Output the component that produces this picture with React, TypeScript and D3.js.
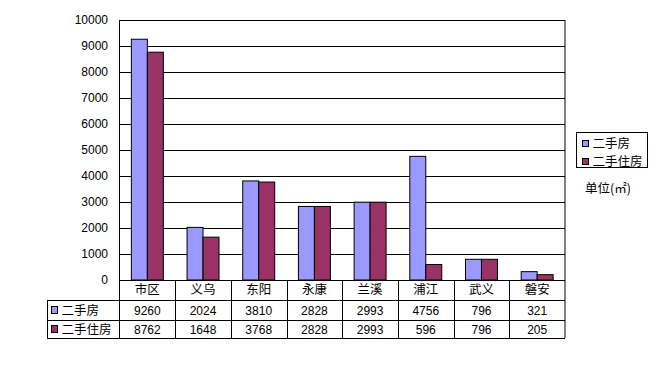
import React from "react";
import * as d3 from "d3";

const categories = ["市区", "义乌", "东阳", "永康", "兰溪", "浦江", "武义", "磐安"];
const seriesNames = ["二手房", "二手住房"];
const series1 = [9260, 2024, 3810, 2828, 2993, 4756, 796, 321];
const series2 = [8762, 1648, 3768, 2828, 2993, 596, 796, 205];
const yTicks = [0, 1000, 2000, 3000, 4000, 5000, 6000, 7000, 8000, 9000, 10000];
const colors = ["#9999FF", "#993366"];
const unitLabel = "单位(㎡)";

const W = 659, H = 365;
const left = 119.5, right = 565, top = 20, bottom = 280;
const font = "'Liberation Sans', 'Noto Sans CJK SC', sans-serif";
const cjk = "'Noto Sans CJK SC', sans-serif";

export default function App() {
  const x = d3.scaleBand<string>().domain(categories).range([left, right]).paddingInner(0).paddingOuter(0);
  const bw = x.bandwidth();
  const y = d3.scaleLinear().domain([0, 10000]).range([bottom, top]);
  const data = [series1, series2];
  const barW = bw * 16 / 55.75;
  const offs = (bw - 2 * barW) / 2;
  const rowY = [280, 300, 320, 338];
  const tableLeft = 47;
  return (
    <svg width={W} height={H} style={{ position: "absolute", left: 0, top: 0, background: "#fff" }}>
      <rect x={0} y={0} width={W} height={H} fill="#fff" />
      {yTicks.map((t) => (
        <g key={t}>
          {t > 0 && <line x1={left} x2={right} y1={Math.round(y(t)) + 0.5} y2={Math.round(y(t)) + 0.5} stroke="#000" strokeWidth={1} />}
          <text x={108} y={y(t)} dy="0.35em" textAnchor="end" fontSize={12} fontFamily={font} fill="#000">{t}</text>
        </g>
      ))}
      {data.map((s, si) =>
        s.map((v, i) => (
          <rect key={si + "-" + i}
            x={(x(categories[i]) as number) + offs + si * barW}
            y={y(v)} width={barW} height={bottom - y(v)}
            fill={colors[si]} stroke="#000" strokeWidth={1} />
        ))
      )}
      <line x1={left} x2={left} y1={top} y2={bottom} stroke="#000" />
      <line x1={right} x2={right} y1={top} y2={rowY[3]} stroke="#000" />
      <line x1={left} x2={right} y1={rowY[0] + 0.5} y2={rowY[0] + 0.5} stroke="#000" />
      <line x1={tableLeft} x2={right} y1={rowY[1] + 0.5} y2={rowY[1] + 0.5} stroke="#000" />
      <line x1={tableLeft} x2={right} y1={rowY[2] + 0.5} y2={rowY[2] + 0.5} stroke="#000" />
      <line x1={tableLeft} x2={right} y1={rowY[3] + 0.5} y2={rowY[3] + 0.5} stroke="#000" />
      <line x1={tableLeft + 0.5} x2={tableLeft + 0.5} y1={rowY[1]} y2={rowY[3]} stroke="#000" />
      <line x1={left} x2={left} y1={bottom} y2={rowY[3]} stroke="#000" />
      {categories.map((c, i) => {
        const cx = (x(c) as number) + bw / 2;
        return (
          <g key={c}>
            {i > 0 && <line x1={Math.round(x(c) as number) + 0.5} x2={Math.round(x(c) as number) + 0.5} y1={bottom} y2={rowY[3]} stroke="#000" />}
            <text x={cx} y={290} dy="0.35em" textAnchor="middle" fontSize={12.5} fontFamily={cjk}>{c}</text>
            <text x={cx} y={310.5} dy="0.35em" textAnchor="middle" fontSize={12} fontFamily={font}>{series1[i]}</text>
            <text x={cx} y={329.5} dy="0.35em" textAnchor="middle" fontSize={12} fontFamily={font}>{series2[i]}</text>
          </g>
        );
      })}
      {seriesNames.map((n, si) => (
        <g key={n}>
          <rect x={51.5} y={(si === 0 ? 306.5 : 325.5)} width={6} height={7} fill={colors[si]} stroke="#000" />
          <text x={61.5} y={si === 0 ? 310.5 : 329.5} dy="0.35em" fontSize={12.5} fontFamily={cjk}>{n}</text>
        </g>
      ))}
      <rect x={576.5} y={132.5} width={71} height={35} fill="#fff" stroke="#000" />
      {seriesNames.map((n, si) => (
        <g key={"lg" + n}>
          <rect x={582.5} y={140.5 + si * 18} width={6} height={6} fill={colors[si]} stroke="#000" />
          <text x={592.5} y={143.5 + si * 18} dy="0.35em" fontSize={12.5} fontFamily={cjk}>{n}</text>
        </g>
      ))}
      <text x={585} y={189} dy="0.35em" fontSize={12.5} fontFamily={cjk}>{unitLabel}</text>
    </svg>
  );
}
